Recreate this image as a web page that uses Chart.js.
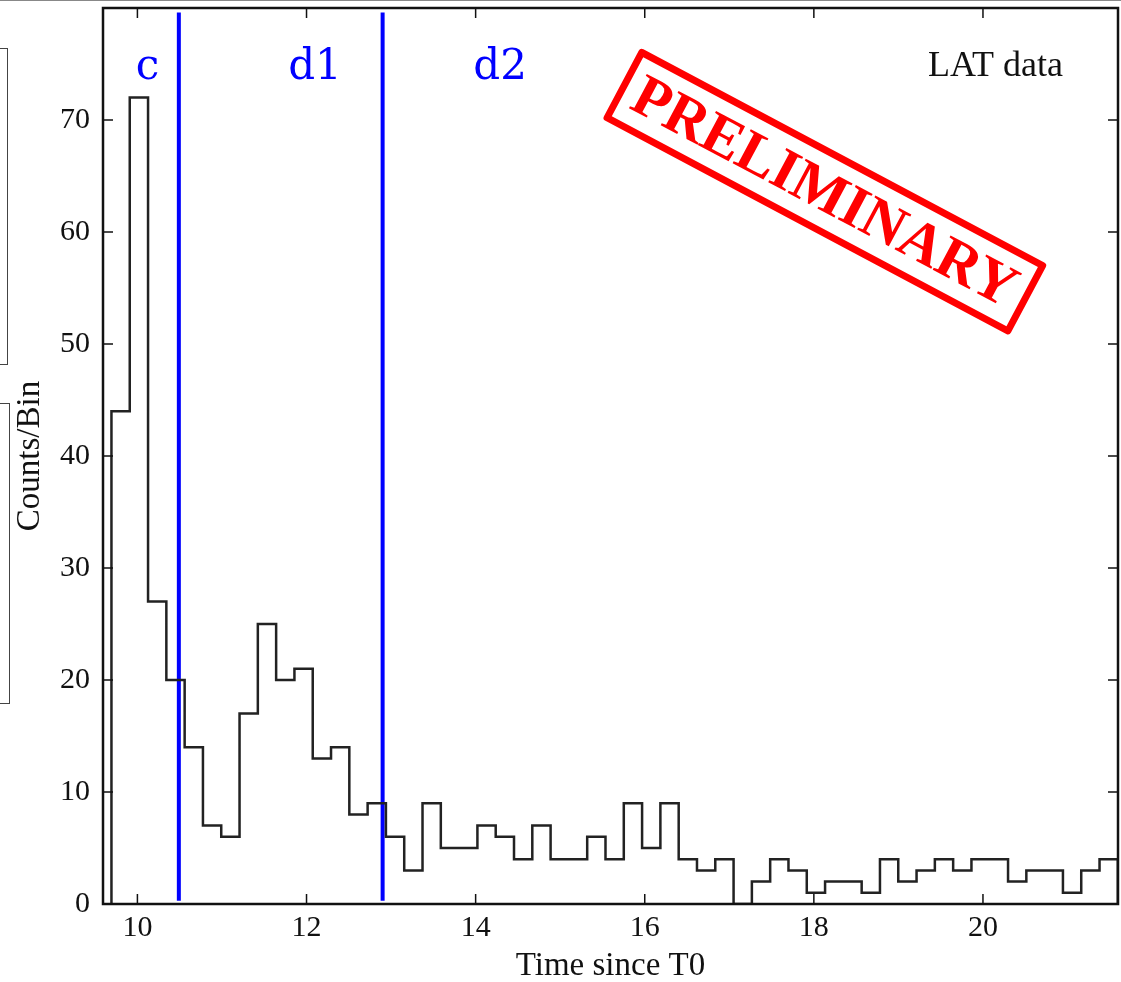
<!DOCTYPE html>
<html>
<head>
<meta charset="utf-8">
<script src="https://cdn.jsdelivr.net/npm/chart.js@4"></script>
<style>
html, body { margin: 0; padding: 0; background: #fff; }
body { width: 1121px; height: 982px; position: relative; overflow: hidden; border-top: 1px solid #888; box-sizing: border-box; }
#chart { position: absolute; left: 0; top: 0; }
.frag { position: absolute; border: 1px solid #444; }
</style>
</head>
<body>
<div class="frag" style="left:-2px; top:47px; width:8px; height:315px;"></div>
<div class="frag" style="left:-2px; top:402px; width:10px; height:299px;"></div>
<canvas id="chart" width="1121" height="982"></canvas>
<script>
// histogram of LAT counts, bins of equal width
const binStart = 9.693;
const binWidth = 0.2164;
const counts = [44, 72, 27, 20, 14, 7, 6, 17, 25, 20, 21, 13, 14, 8, 9, 6, 3, 9, 5, 5,
                7, 6, 4, 7, 4, 4, 6, 4, 9, 5, 9, 4, 3, 4, 0, 2, 4, 3, 1, 2,
                2, 1, 4, 2, 3, 4, 3, 4, 4, 2, 3, 3, 1, 3, 4];

const xTicks = [10, 12, 14, 16, 18, 20];
const yTicks = [0, 10, 20, 30, 40, 50, 60, 70];

// interval boundaries and their labels
const intervalEdges = [10.49, 12.9];
const intervalLabels = ['c', 'd1', 'd2'];
const intervalLabelX = [10.12, 12.10, 14.29];
const intervalLabelY = 73.7;

const serif = '"Liberation Serif", "DejaVu Serif", serif';

const histPoints = [{ x: binStart, y: 0 }];
counts.forEach((c, i) => histPoints.push({ x: binStart + i * binWidth, y: c }));
const binEnd = binStart + counts.length * binWidth;
histPoints.push({ x: binEnd, y: counts[counts.length - 1] });
histPoints.push({ x: binEnd, y: 0 });

const edgeSets = intervalEdges.map(e => ({
    data: [{ x: e, y: 0.3 }, { x: e, y: 79.6 }],
    borderColor: '#0000ff',
    borderWidth: 4,
    pointRadius: 0,
    fill: false,
}));

const decorations = {
    id: 'decorations',
    afterDraw(chart) {
        const ctx = chart.ctx;
        const { left, right, top, bottom } = chart.chartArea;
        const xs = chart.scales.x, ys = chart.scales.y;

        // inward ticks on all four sides
        ctx.save();
        ctx.strokeStyle = '#111';
        ctx.lineWidth = 1.5;
        ctx.beginPath();
        xTicks.forEach(v => {
            const px = xs.getPixelForValue(v);
            ctx.moveTo(px, bottom); ctx.lineTo(px, bottom - 10);
            ctx.moveTo(px, top); ctx.lineTo(px, top + 10);
        });
        yTicks.forEach(v => {
            const py = ys.getPixelForValue(v);
            ctx.moveTo(left, py); ctx.lineTo(left + 10, py);
            ctx.moveTo(right, py); ctx.lineTo(right - 10, py);
        });
        ctx.stroke();

        // frame
        ctx.lineWidth = 2.5;
        ctx.strokeRect(left, top, right - left, bottom - top);

        // interval labels
        ctx.fillStyle = '#0000ff';
        ctx.font = '42px "DejaVu Serif", serif';
        ctx.textAlign = 'center';
        ctx.textBaseline = 'alphabetic';
        intervalLabels.forEach((t, i) => {
            ctx.fillText(t, xs.getPixelForValue(intervalLabelX[i]), ys.getPixelForValue(intervalLabelY));
        });

        ctx.fillStyle = '#111';
        ctx.font = '36px ' + serif;
        ctx.textAlign = 'right';
        ctx.fillText('LAT data', right - 55, ys.getPixelForValue(73.9));

        // PRELIMINARY stamp
        const cx = xs.getPixelForValue(18.13), cy = ys.getPixelForValue(63.6);
        ctx.translate(cx, cy);
        ctx.rotate(28 * Math.PI / 180);
        ctx.strokeStyle = '#ff0000';
        ctx.lineWidth = 7;
        ctx.lineJoin = 'round';
        ctx.strokeRect(-227, -37, 454, 74);
        ctx.fillStyle = '#ff0000';
        ctx.font = 'bold 59px ' + serif;
        ctx.textAlign = 'center';
        ctx.textBaseline = 'middle';
        ctx.fillText('PRELIMINARY', 0, 3);
        ctx.restore();
    }
};

new Chart(document.getElementById('chart'), {
    type: 'line',
    data: {
        datasets: [{
            data: histPoints,
            stepped: true,
            borderColor: '#222',
            borderWidth: 2.5,
            pointRadius: 0,
            fill: false,
        }, ...edgeSets],
    },
    options: {
        responsive: false,
        animation: false,
        devicePixelRatio: 1,
        layout: { padding: { top: 7, right: 3, left: 0, bottom: 0 } },
        plugins: { legend: { display: false }, tooltip: { enabled: false } },
        scales: {
            x: {
                type: 'linear',
                min: 9.593,
                max: 21.597,
                afterBuildTicks: s => { s.ticks = xTicks.map(v => ({ value: v })); },
                afterFit: s => { s.height = 79; s.paddingLeft = 0; s.paddingRight = 0; },
                grid: { display: false, drawTicks: false },
                border: { display: false },
                ticks: { color: '#111', font: { family: serif, size: 30 }, padding: 6, maxRotation: 0, autoSkip: false },
                title: { display: true, text: 'Time since T0', color: '#111', font: { family: serif, size: 33, lineHeight: 1 }, padding: 0 },
            },
            y: {
                min: 0,
                max: 80,
                afterBuildTicks: s => { s.ticks = yTicks.map(v => ({ value: v })); },
                afterFit: s => { s.width = 103; s.paddingTop = 0; s.paddingBottom = 0; },
                grid: { display: false, drawTicks: false },
                border: { display: false },
                ticks: { color: '#111', font: { family: serif, size: 30 }, padding: 13 },
                title: { display: true, text: 'Counts/Bin', color: '#111', font: { family: serif, size: 33, lineHeight: 1 }, padding: { top: 14, bottom: 14 } },
            },
        },
    },
    plugins: [decorations],
});
</script>
</body>
</html>
